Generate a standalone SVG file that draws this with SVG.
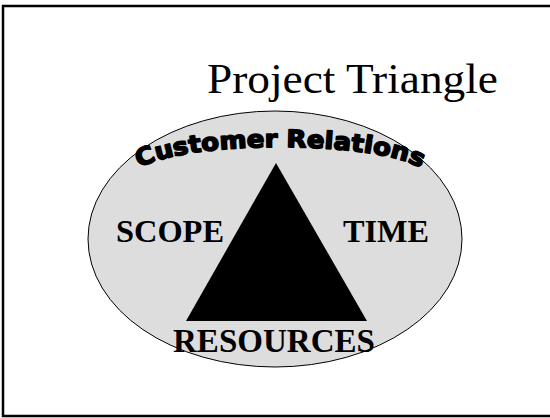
<svg xmlns="http://www.w3.org/2000/svg" width="550" height="418" viewBox="0 0 550 418">
<defs>
<style>
.serif{font-family:"Liberation Serif","Times New Roman",serif;fill:#000}
.lbl{font-weight:bold}
.arc{font-family:"DejaVu Sans","Liberation Sans",sans-serif;font-weight:bold;font-size:24px;fill:#000;stroke:#000;stroke-width:1.6;stroke-linejoin:round}
</style>
<path id="arcPath" d="M 130 179 A 150 32 0 0 1 430 179" fill="none"/>
</defs>
<rect x="3" y="6" width="552" height="410" fill="#fff" stroke="#000" stroke-width="2.5"/>
<g id="title"><text class="serif" x="207" y="93" font-size="43" textLength="291" lengthAdjust="spacingAndGlyphs">Project Triangle</text></g>
<g id="ellipse"><ellipse cx="275" cy="239" rx="187" ry="128" fill="#dddddd" stroke="#000" stroke-width="1"/></g>
<g id="customer-relations"><text class="arc"><textPath href="#arcPath" startOffset="15" textLength="287" lengthAdjust="spacingAndGlyphs">Customer Relations</textPath></text></g>
<g id="triangle"><polygon points="276,163 186,321 367,321" fill="#000"/></g>
<g id="scope"><text class="serif lbl" x="116" y="242" font-size="31" textLength="108" lengthAdjust="spacingAndGlyphs">SCOPE</text></g>
<g id="time"><text class="serif lbl" x="343" y="242" font-size="31" textLength="86" lengthAdjust="spacingAndGlyphs">TIME</text></g>
<g id="resources"><text class="serif lbl" x="173" y="352" font-size="34" textLength="202" lengthAdjust="spacingAndGlyphs">RESOURCES</text></g>
<g id="connectors"></g>
</svg>
